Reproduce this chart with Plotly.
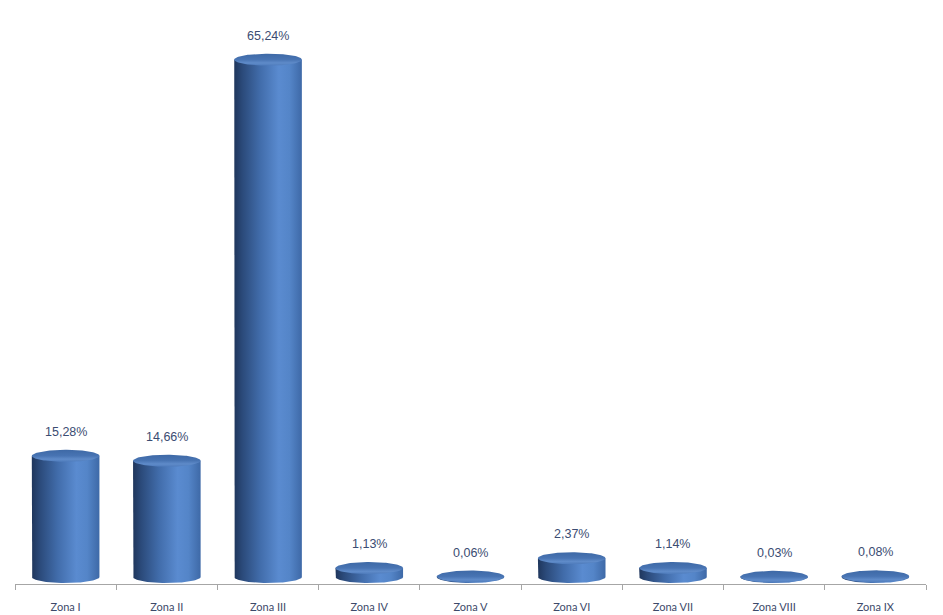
import numpy as np
import plotly.graph_objects as go

categories = ["Zona I", "Zona II", "Zona III", "Zona IV", "Zona V",
              "Zona VI", "Zona VII", "Zona VIII", "Zona IX"]
values = [15.28, 14.66, 65.24, 1.13, 0.06, 2.37, 1.14, 0.03, 0.08]

# layout geometry (pixels); page body has an 8px margin
W, H = 935, 607
M_L, M_R, M_T, M_B = 7, 17, 0, 31
Y_MIN = -0.883
plot_h = H - M_T - M_B
px_per_unit = 7.93
Y_MAX = Y_MIN + plot_h / px_per_unit
half_w = 0.334                 # cylinder half width in category units
half_h = 6.0 / px_per_unit     # ellipse half height in data units

body_scale = [[0, "#1F365C"], [0.12, "#2B4A7A"], [0.38, "#416CAA"],
              [0.66, "#5A8BD0"], [0.82, "#5485C8"], [1, "#3E69A7"]]
top_scale = [[0, "#4F7CBC"], [0.22, "#5F8BC9"], [0.5, "#4874B3"], [1, "#3E69A6"]]

fig = go.Figure()
theta_low = np.linspace(np.pi, 2 * np.pi, 60)
theta_full = np.linspace(0, 2 * np.pi, 120)

for i, v in enumerate(values):
    bx = [i - half_w, i - half_w] + list(i + half_w * np.cos(theta_low)) + [i + half_w, i - half_w]
    by = [v, 0] + list(half_h * np.sin(theta_low)) + [v, v]
    fig.add_trace(go.Scatter(
        x=bx, y=by, mode="lines", fill="toself", line=dict(width=0),
        fillgradient=dict(type="horizontal", colorscale=body_scale),
        hoverinfo="skip", showlegend=False))
    tx = list(i + half_w * np.cos(theta_full))
    ty = list(v + half_h * np.sin(theta_full))
    fig.add_trace(go.Scatter(
        x=tx, y=ty, mode="lines", fill="toself", line=dict(width=0),
        fillgradient=dict(type="vertical", colorscale=top_scale),
        hoverinfo="skip", showlegend=False))
    fig.add_annotation(
        x=i, y=v, text=f"{v:.2f}".replace(".", ",") + "%",
        showarrow=False, yanchor="middle", yshift=24,
        font=dict(family="Liberation Sans, Arial", size=12.5, color="#3B4C72"))

fig.update_layout(
    width=W, height=H,
    margin=dict(l=M_L, r=M_R, t=M_T, b=M_B),
    paper_bgcolor="white", plot_bgcolor="white",
    xaxis=dict(
        range=[-0.5, 8.5], showgrid=False, zeroline=False,
        showline=True, linecolor="#A6A6A6", linewidth=1,
        tickmode="array", tickvals=list(range(len(categories))), ticktext=categories,
        ticks="outside", ticklen=13, tickcolor="rgba(0,0,0,0)",
        tickfont=dict(family="Lato, Open Sans, sans-serif", size=11, color="#3D4A6A"),
        minor=dict(tickmode="array", tickvals=[j - 0.5 for j in range(len(categories) + 1)],
                   ticks="outside", ticklen=5, tickcolor="#A6A6A6", tickwidth=1, showgrid=False),
        fixedrange=True),
    yaxis=dict(range=[Y_MIN, Y_MAX], visible=False, showgrid=False, zeroline=False,
               fixedrange=True),
)

fig.write_html("out.html")
